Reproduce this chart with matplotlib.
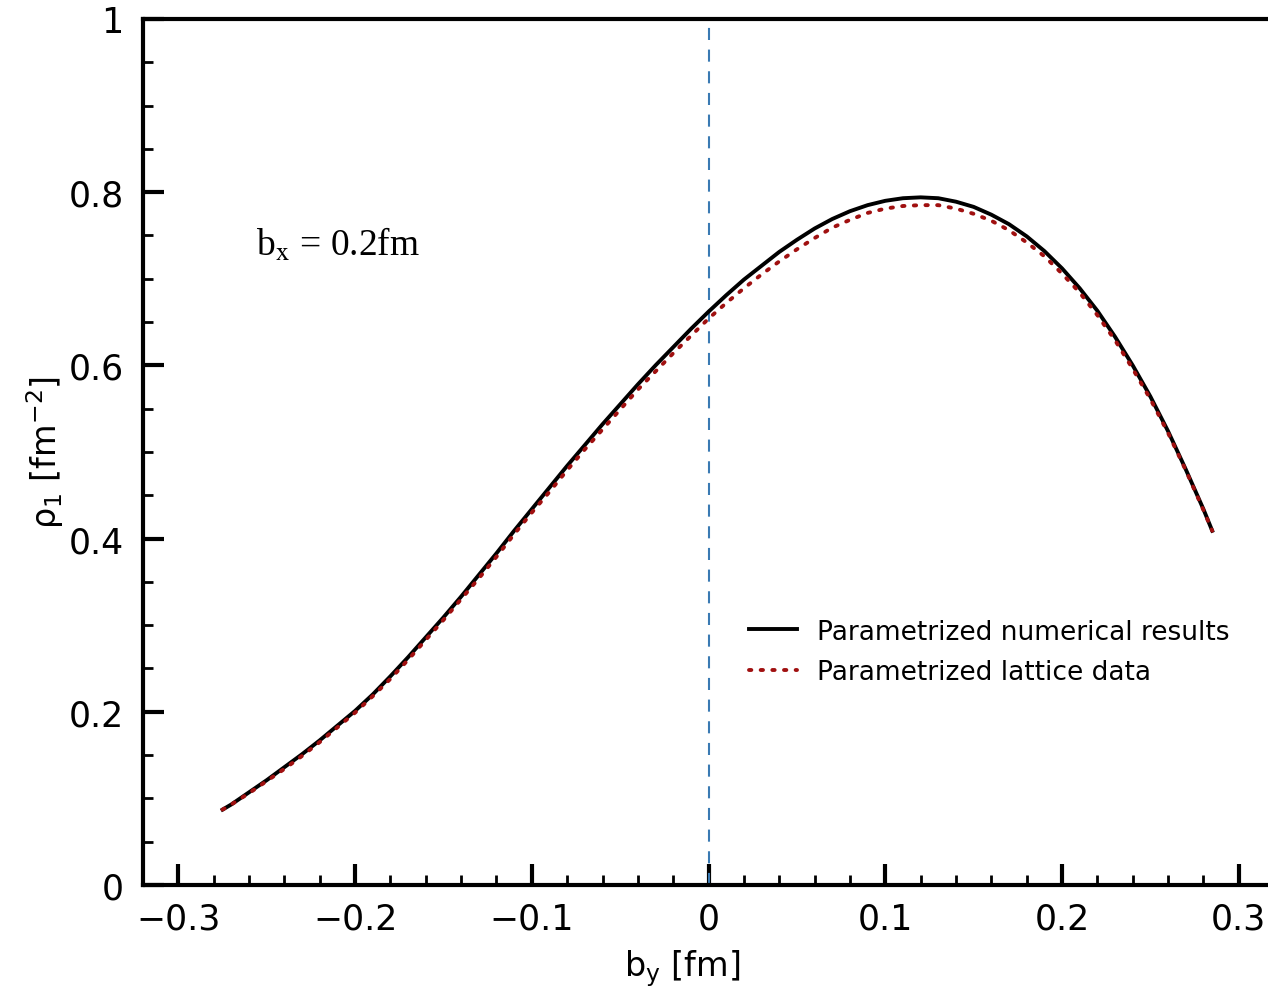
import matplotlib
matplotlib.use("Agg")
from matplotlib import pyplot as plt
from matplotlib.ticker import MultipleLocator

# transverse position b_y [fm]
by = [-0.275, -0.27, -0.26, -0.25, -0.24, -0.23, -0.22, -0.21, -0.20, -0.19,
      -0.18, -0.17, -0.16, -0.15, -0.14, -0.13, -0.12, -0.11, -0.10, -0.09,
      -0.08, -0.07, -0.06, -0.05, -0.04, -0.03, -0.02, -0.01, 0.00, 0.01,
      0.02, 0.03, 0.04, 0.05, 0.06, 0.07, 0.08, 0.09, 0.10, 0.11,
      0.12, 0.13, 0.14, 0.15, 0.16, 0.17, 0.18, 0.19, 0.20, 0.21,
      0.22, 0.23, 0.24, 0.25, 0.26, 0.27, 0.28, 0.285]

# parametrized numerical results
rho_num = [0.087, 0.093, 0.107, 0.121, 0.136, 0.151, 0.167, 0.184, 0.201, 0.220,
           0.241, 0.263, 0.286, 0.309, 0.333, 0.358, 0.383, 0.409, 0.434, 0.459,
           0.484, 0.508, 0.532, 0.555, 0.578, 0.600, 0.621, 0.642, 0.662, 0.681,
           0.699, 0.715, 0.731, 0.745, 0.758, 0.769, 0.778, 0.785, 0.790, 0.793,
           0.794, 0.793, 0.789, 0.783, 0.774, 0.763, 0.749, 0.732, 0.712, 0.689,
           0.663, 0.633, 0.600, 0.564, 0.524, 0.480, 0.434, 0.409]

# parametrized lattice data
rho_lat = [0.087, 0.093, 0.106, 0.120, 0.134, 0.149, 0.165, 0.182, 0.199, 0.218,
           0.238, 0.260, 0.283, 0.306, 0.330, 0.354, 0.379, 0.405, 0.430, 0.454,
           0.479, 0.503, 0.526, 0.549, 0.572, 0.593, 0.614, 0.634, 0.654, 0.672,
           0.689, 0.705, 0.720, 0.734, 0.747, 0.759, 0.768, 0.776, 0.781, 0.784,
           0.785, 0.785, 0.781, 0.775, 0.767, 0.756, 0.742, 0.726, 0.706, 0.684,
           0.658, 0.629, 0.596, 0.561, 0.522, 0.479, 0.433, 0.409]

labels = ["Parametrized numerical results", "Parametrized lattice data"]

fig = plt.figure(figsize=(12.68, 10.03), dpi=100)
ax = fig.add_axes([0.1128, 0.1167, 0.892, 0.8634])

ax.axvline(0, color="#3a7ab3", lw=1.5, ls=(0, (5.8, 4.6)))
ax.plot(by, rho_num, color="black", lw=2.8, label=labels[0])
ax.plot(by, rho_lat, color="#a01010", lw=2.8, ls=(0, (0.6, 2.4)),
        dash_capstyle="round", label=labels[1])

ax.set_xlim(-0.32, 0.32)
ax.set_ylim(0, 1)

ax.xaxis.set_minor_locator(MultipleLocator(0.02))
ax.yaxis.set_minor_locator(MultipleLocator(0.05))
ax.set_yticks([0, 0.2, 0.4, 0.6, 0.8, 1.0])
ax.set_yticklabels(["0", "0.2", "0.4", "0.6", "0.8", "1"])
ax.set_xticks([-0.3, -0.2, -0.1, 0, 0.1, 0.2, 0.3])
ax.set_xticklabels(["\u22120.3", "\u22120.2", "\u22120.1", "0", "0.1", "0.2", "0.3"])

ax.tick_params(which="both", direction="in", top=False, right=False)
ax.tick_params(which="major", length=15, width=3, labelsize=25)
ax.tick_params(which="minor", length=7, width=2)
ax.tick_params(axis="x", which="major", pad=12)
ax.tick_params(axis="y", which="major", pad=14)

for side in ["left", "bottom", "top", "right"]:
    ax.spines[side].set_linewidth(3)

ax.set_xlabel(r"b$_\mathrm{y}$ [fm]", fontsize=24)
ax.xaxis.set_label_coords(0.477, -0.072)
ax.set_ylabel(r"ρ$_1$ [fm$^{-2}$]", fontsize=24)
ax.yaxis.set_label_coords(-0.068, 0.5)

ax.text(-0.256, 0.74, r"b$_\mathrm{x}$ = 0.2fm", fontsize=27,
        family="Liberation Serif", va="center", ha="left",
        math_fontfamily="stix")

ax.legend(loc="upper left", bbox_to_anchor=(0.515, 0.335), frameon=False,
          fontsize=19, handlelength=1.8, handletextpad=0.75, labelspacing=0.55)

fig.savefig("out.png", dpi=100)
